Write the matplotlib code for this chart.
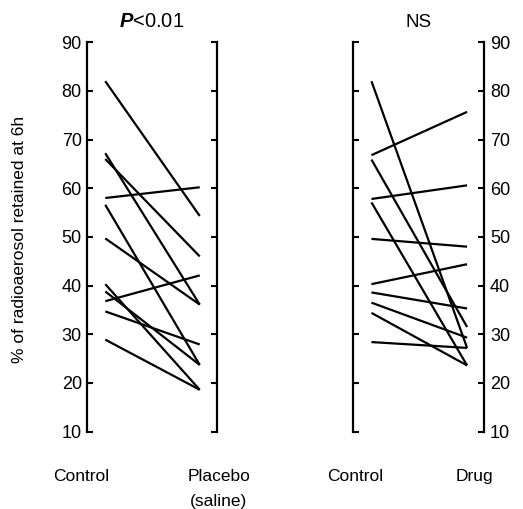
import matplotlib
matplotlib.use('Agg')
import matplotlib.pyplot as plt

plt.rcParams['font.family'] = 'Liberation Sans'
plt.rcParams['mathtext.fontset'] = 'custom'
plt.rcParams['mathtext.it'] = 'Liberation Sans:italic:bold'
plt.rcParams['mathtext.rm'] = 'Liberation Sans'

# % retained at 6h, before / after
placebo_control = [82, 67.2, 66, 58, 56.6, 49.7, 40.3, 38.8, 36.8, 34.7, 28.9]
placebo_after = [54.3, 36.1, 46, 60.2, 23.7, 36.1, 18.6, 23.7, 42.1, 27.9, 18.6]

drug_control = [82, 66.8, 65.9, 57.8, 57.1, 49.6, 40.3, 38.6, 36.5, 34.4, 28.4]
drug_after = [27.2, 75.7, 31.5, 60.6, 23.6, 48, 44.4, 35.3, 29.3, 23.6, 27.2]

yticks = [10, 20, 30, 40, 50, 60, 70, 80, 90]

fig = plt.figure(figsize=(5.23, 5.09), dpi=100)
ax1 = fig.add_axes([0.167, 0.152, 0.2474, 0.765])
ax2 = fig.add_axes([0.6755, 0.152, 0.2505, 0.765])


def panel(ax, before, after, label_side):
    for b, a in zip(before, after):
        ax.plot([0, 1], [b, a], color='black', lw=1.6, solid_capstyle='butt')
    ax.set_xlim(-0.19, 1.18)
    ax.set_ylim(10, 90)
    ax.set_xticks([])
    ax.spines['top'].set_visible(False)
    ax.spines['bottom'].set_visible(False)
    ax.spines['left'].set_linewidth(1.6)
    ax.spines['right'].set_linewidth(1.6)
    ax.set_yticks(yticks)
    ax.tick_params(axis='y', which='both', direction='in', length=4.5, width=1.5,
                   left=True, right=True, labelsize=13,
                   labelleft=(label_side == 'left'), labelright=(label_side == 'right'),
                   pad=4)


panel(ax1, placebo_control, placebo_after, 'left')
panel(ax2, drug_control, drug_after, 'right')

ax1.set_title(r'$\mathit{P}$<0.01', fontsize=14.5, pad=11)
ax2.set_title('NS', fontsize=13.5, pad=11)

fig.text(0.038, 0.53, '% of radioaerosol retained at 6h', rotation=90,
         ha='center', va='center', fontsize=12.5)

fig.text(0.156, 0.063, 'Control', ha='center', va='center', fontsize=12.5)
fig.text(0.418, 0.063, 'Placebo', ha='center', va='center', fontsize=12.5)
fig.text(0.418, 0.014, '(saline)', ha='center', va='center', fontsize=12.5)
fig.text(0.68, 0.063, 'Control', ha='center', va='center', fontsize=12.5)
fig.text(0.908, 0.063, 'Drug', ha='center', va='center', fontsize=12.5)

fig.savefig('out.png', dpi=100)
